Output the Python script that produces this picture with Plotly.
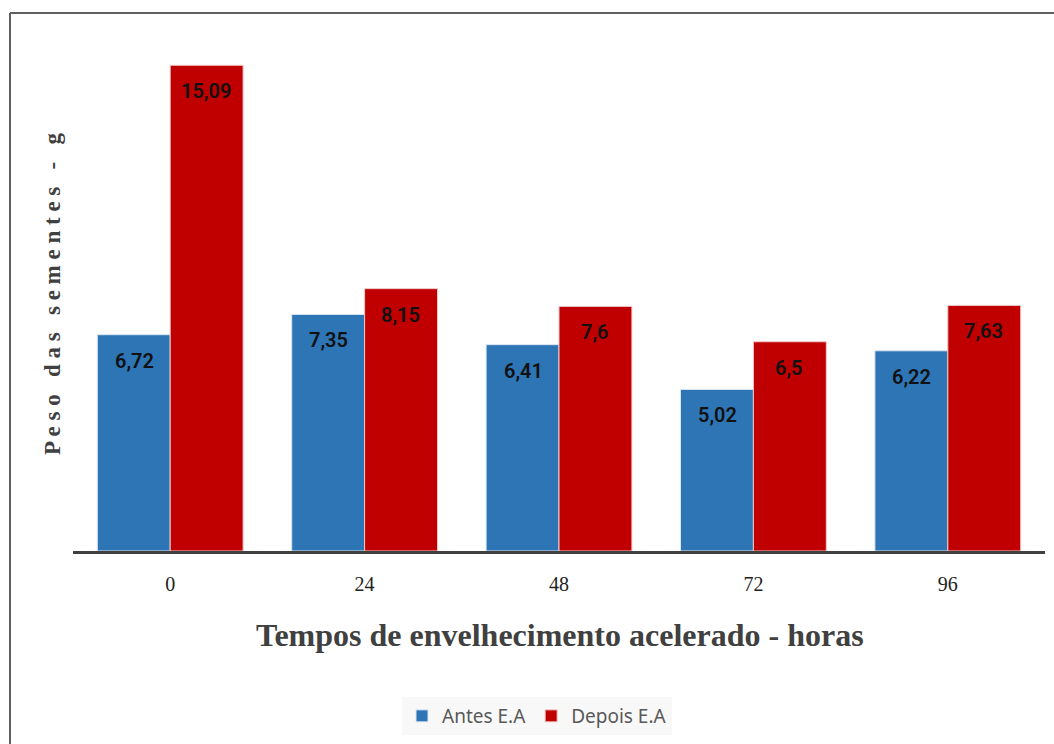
import plotly.graph_objects as go

# Aging times (hours) and seed weight (g) before / after accelerated aging
tempos = ["0", "24", "48", "72", "96"]
antes = [6.72, 7.35, 6.41, 5.02, 6.22]
depois = [15.09, 8.15, 7.6, 6.5, 7.63]

AZUL = "#2E75B6"
VERMELHO = "#C00000"

W, H = 1054, 744
ML, MR, MT, MB = 73, 9, 36, 193
PW, PH = W - ML - MR, H - MT - MB


def px_x(x):
    return (x - ML) / PW


def px_y(y):
    return (H - MB - y) / PH


def rotulo(v):
    return f"{v:g}".replace(".", ",")


fig = go.Figure()
fig.add_trace(go.Bar(
    name="Antes E.A", x=tempos, y=antes,
    marker=dict(color=AZUL, line=dict(color="#dbe6f2", width=1)),
))
fig.add_trace(go.Bar(
    name="Depois E.A", x=tempos, y=depois,
    marker=dict(color=VERMELHO, line=dict(color="#f0c8c8", width=1)),
))

# value labels just below each bar top (x given as category index)
annotations = []
for serie, shift in ((antes, -36), (depois, 36)):
    for i, v in enumerate(serie):
        annotations.append(dict(
            x=i, y=v, xref="x", yref="y", text=rotulo(v),
            showarrow=False, xshift=shift, yshift=-26,
            font=dict(family="Roboto", size=20, color="#111111", weight=600),
        ))

# axis titles
annotations.append(dict(
    x=px_x(560), y=px_y(635), xref="paper", yref="paper",
    text="<b>Tempos de envelhecimento acelerado - horas</b>",
    showarrow=False, xanchor="center", yanchor="middle",
    font=dict(family="Liberation Serif", size=32, color="#404040"),
))
annotations.append(dict(
    x=px_x(52), y=px_y(294), xref="paper", yref="paper",
    text="<b>P e s o   d a s   s e m e n t e s   -   g</b>",
    showarrow=False, textangle=-90, xanchor="center", yanchor="middle",
    font=dict(family="Liberation Serif", size=23, color="#404040"),
))

# outer frame (top and left edges)
shapes = [
    dict(type="line", xref="paper", yref="paper",
         x0=px_x(10), x1=px_x(W + 5), y0=px_y(13), y1=px_y(13),
         line=dict(color="#606060", width=2)),
    dict(type="line", xref="paper", yref="paper",
         x0=px_x(10), x1=px_x(10), y0=px_y(13), y1=px_y(H + 5),
         line=dict(color="#606060", width=2)),
]

fig.update_layout(
    width=W, height=H,
    margin=dict(l=ML, r=MR, t=MT, b=MB),
    paper_bgcolor="white", plot_bgcolor="white",
    barmode="group", bargap=0.25, bargroupgap=0.0,
    showlegend=True,
    legend=dict(
        orientation="h", x=px_x(537), y=px_y(716),
        xanchor="center", yanchor="middle",
        bgcolor="#f8f8f8", borderwidth=0,
        font=dict(family="Noto Sans", size=19, color="#595959"),
        itemwidth=30, tracegroupgap=0,
    ),
    xaxis=dict(
        type="category", range=[-0.5, len(tempos) - 0.5], autorange=False,
        showline=True, linecolor="#404040", linewidth=3,
        ticks="", showgrid=False, ticklabelstandoff=13,
        tickfont=dict(family="Liberation Serif", size=20, color="#222222"),
    ),
    yaxis=dict(
        range=[0, 16], autorange=False, visible=False, showgrid=False, zeroline=False,
    ),
    annotations=annotations,
    shapes=shapes,
)

fig.write_html("out.html")
